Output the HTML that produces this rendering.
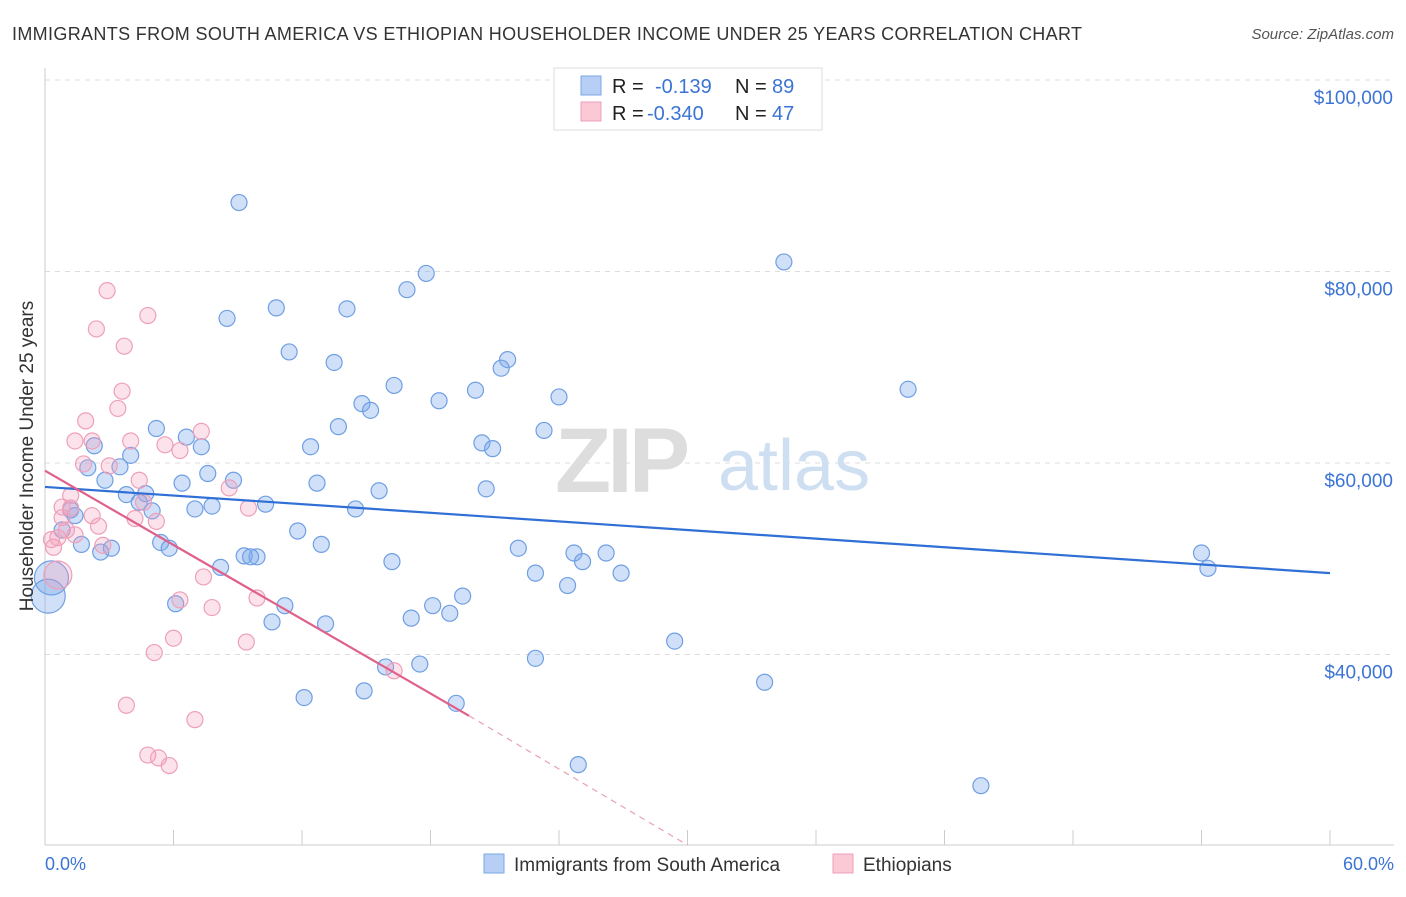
<!DOCTYPE html>
<html><head><meta charset="utf-8">
<style>
body{margin:0;background:#fff;font-family:"Liberation Sans",sans-serif;}
svg text{font-family:"Liberation Sans",sans-serif;}
</style></head>
<body>
<svg id="chart" width="1406" height="892" xmlns="http://www.w3.org/2000/svg">
<text x="12" y="40" font-size="18" fill="#333" textLength="1070">IMMIGRANTS FROM SOUTH AMERICA VS ETHIOPIAN HOUSEHOLDER INCOME UNDER 25 YEARS CORRELATION CHART</text>
<text x="1394" y="39" font-size="15" fill="#555" text-anchor="end" font-style="italic">Source: ZipAtlas.com</text>
<g id="grid"></g>
<g>
<text x="555" y="492" font-size="92" fill="#ddd" font-family="Liberation Serif" font-weight="bold" letter-spacing="-4">ZIP</text>
<text x="718" y="490" font-size="72" fill="#cfdff2">atlas</text>
</g>
<g id="marks"></g>
<text transform="translate(33,456) rotate(-90)" font-size="19" fill="#333" text-anchor="middle">Householder Income Under 25 years</text>
<text x="45" y="870" font-size="18" fill="#3b74d4">0.0%</text>
<text x="1394" y="870" font-size="18" fill="#3b74d4" text-anchor="end">60.0%</text>
<g>
<rect x="554" y="68" width="268" height="62" fill="#fff" stroke="#ddd"/>
<rect x="581" y="76" width="20" height="19" fill="#b7cff5" stroke="#7aa7e6"/>
<rect x="581" y="102" width="20" height="19" fill="#fbc8d6" stroke="#eea0b8"/>
<text x="612" y="93" font-size="20" fill="#222">R = </text><text x="655" y="93" font-size="20" fill="#3b74d4">-0.139</text>
<text x="735" y="93" font-size="20" fill="#222">N = </text><text x="772" y="93" font-size="20" fill="#3b74d4">89</text>
<text x="612" y="120" font-size="20" fill="#222">R = </text><text x="647" y="120" font-size="20" fill="#3b74d4">-0.340</text>
<text x="735" y="120" font-size="20" fill="#222">N = </text><text x="772" y="120" font-size="20" fill="#3b74d4">47</text>
</g>
<g>
<rect x="484" y="854" width="20" height="19" fill="#b7cff5" stroke="#7aa7e6"/>
<text x="514" y="871" font-size="19" fill="#333">Immigrants from South America</text>
<rect x="833" y="854" width="20" height="19" fill="#fbc8d6" stroke="#eea0b8"/>
<text x="863" y="871" font-size="19" fill="#333">Ethiopians</text>
</g>
</svg>
<script>
const yTicks=[100000,80000,60000,40000];
const yTickLabels=["$100,000","$80,000","$60,000","$40,000"];
const xTicks=[0,6,12,18,24,30,36,42,48,54,60];
const blueX=[9.06,34.5,17.8,16.9,8.5,10.8,14.1,11.4,13.5,21.6,21.3,40.3,16.3,20.1,24.0,18.4,14.8,15.2,13.7,5.2,6.6,20.4,20.9,23.3,12.4,7.3,2.3,4.0,2.0,3.5,7.6,8.8,6.4,12.7,20.6,15.6,2.8,3.8,4.7,4.4,5.0,7.0,7.8,10.3,14.5,1.2,1.4,0.8,11.8,1.7,2.6,3.1,5.4,5.8,12.9,22.1,24.7,26.2,54.0,9.3,9.9,9.6,16.2,25.1,8.2,22.9,26.9,54.3,24.4,0.3,0.15,19.5,18.1,6.1,11.2,17.1,18.9,10.6,13.1,29.4,22.9,15.9,17.5,33.6,14.9,12.1,19.2,24.9,43.7];
const blueY=[87.2,81.0,79.8,78.1,75.1,76.2,76.1,71.6,70.5,70.8,69.9,67.7,68.1,67.6,66.9,66.5,66.2,65.5,63.8,63.6,62.7,62.1,61.5,63.4,61.7,61.7,61.8,60.8,59.5,59.6,58.9,58.2,57.9,57.9,57.3,57.1,58.2,56.7,56.8,55.9,55.0,55.2,55.5,55.7,55.2,55.1,54.5,53.0,52.9,51.5,50.7,51.1,51.7,51.1,51.5,51.1,50.6,50.6,50.6,50.3,50.2,50.2,49.7,49.7,49.1,48.5,48.5,49.0,47.2,48.0,46.1,46.1,45.1,45.3,45.1,43.8,44.3,43.4,43.2,41.4,39.6,38.7,39.0,37.1,36.2,35.5,34.9,28.5,26.3];
const blueBig=[69,70];
const pinkX=[2.9,4.8,2.4,3.7,3.6,3.4,1.9,7.3,1.4,2.2,4.0,5.6,6.3,1.8,3.0,4.4,8.6,1.2,4.6,0.8,9.5,1.2,2.2,4.2,5.2,2.5,1.4,0.6,2.7,0.4,0.6,7.4,6.3,9.9,7.8,6.0,9.4,5.1,16.3,3.8,7.0,4.8,5.3,5.8,0.3,1.0,0.8];
const pinkY=[78.0,75.4,74.0,72.2,67.5,65.7,64.4,63.3,62.3,62.3,62.3,61.9,61.3,59.9,59.7,58.2,57.4,56.6,55.9,55.4,55.3,55.3,54.5,54.2,53.9,53.4,52.5,52.2,51.4,51.2,48.3,48.1,45.7,45.9,44.9,41.7,41.3,40.2,38.3,34.7,33.2,29.5,29.2,28.4,52.0,53.0,54.3];
const pinkBig=[30];
const blueTrend=[[0,57.5],[60,48.5]];
const pinkTrend=[[0,59.2],[19.8,33.6]];
const pinkTrendDash=[[19.8,33.6],[30,20.1]];

const NS="http://www.w3.org/2000/svg";
const sx=p=>45+p*(1285/60);
const sy=k=>80+(100-k)*(191.5/20);
const grid=document.getElementById('grid');
const marks=document.getElementById('marks');
function mk(tag,attrs,parent){const e=document.createElementNS(NS,tag);for(const k in attrs)e.setAttribute(k,attrs[k]);parent.appendChild(e);return e;}
yTicks.forEach((v,i)=>{
  const y=sy(v/1000);
  const l=mk('line',{x1:45,x2:1394,y1:y,y2:y,stroke:'#ddd','stroke-dasharray':'5,5'},grid);
  
  
  const t=mk('text',{x:1393,y:y+24,'font-size':19,fill:'#3b74d4','text-anchor':'end'},grid);
  t.textContent=yTickLabels[i];
  
  
});
const ax=mk('line',{x1:45,x2:1394,y1:845,y2:845,stroke:'#ccc'},grid);


const ay=mk('line',{x1:45,x2:45,y1:68,y2:845,stroke:'#ccc'},grid);


xTicks.forEach(p=>{
  const l=mk('line',{x1:sx(p),x2:sx(p),y1:830,y2:845,stroke:'#ccc'},grid);
  
  
});
blueX.forEach((p,i)=>{
  const c=mk('circle',{cx:sx(p),cy:sy(blueY[i]),r:blueBig.includes(i)?17:8,fill:'rgba(120,165,235,0.35)',stroke:'#6f9fe3','stroke-width':1.2},marks);
  
  
});
pinkX.forEach((p,i)=>{
  const c=mk('circle',{cx:sx(p),cy:sy(pinkY[i]),r:pinkBig.includes(i)?14:8,fill:'rgba(245,160,190,0.3)',stroke:'#eea0b8','stroke-width':1.2},marks);
  
  
});
const bl=mk('line',{x1:sx(blueTrend[0][0]),y1:sy(blueTrend[0][1]),x2:sx(blueTrend[1][0]),y2:sy(blueTrend[1][1]),stroke:'#2f6fd6','stroke-width':2.2},marks);


const pl=mk('line',{x1:sx(pinkTrend[0][0]),y1:sy(pinkTrend[0][1]),x2:sx(pinkTrend[1][0]),y2:sy(pinkTrend[1][1]),stroke:'#e0608a','stroke-width':2.2},marks);


const pd=mk('line',{x1:sx(pinkTrendDash[0][0]),y1:sy(pinkTrendDash[0][1]),x2:sx(pinkTrendDash[1][0]),y2:sy(pinkTrendDash[1][1]),stroke:'#e8a0b8','stroke-width':1.2,'stroke-dasharray':'6,5'},marks);


</script>
</body></html>
